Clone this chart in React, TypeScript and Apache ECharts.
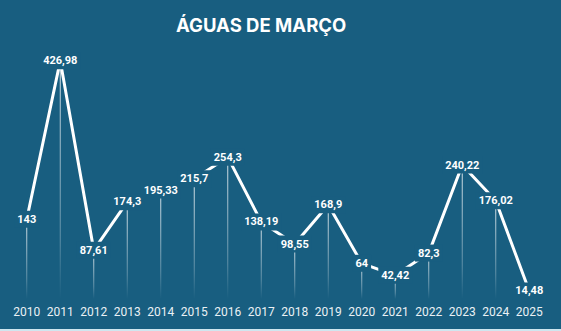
import React, { useEffect, useRef } from "react";
import * as echarts from "echarts";

const years = ["2010", "2011", "2012", "2013", "2014", "2015", "2016", "2017", "2018", "2019", "2020", "2021", "2022", "2023", "2024", "2025"];
const rainfall = [143, 426.98, 87.61, 174.3, 195.33, 215.7, 254.3, 138.19, 98.55, 168.9, 64, 42.42, 82.3, 240.22, 176.02, 14.48];
const titleText = "ÁGUAS DE MARÇO";

const BG = "#185e80";

export default function App() {
  const ref = useRef<HTMLDivElement>(null);
  useEffect(() => {
    if (!ref.current) return;
    const chart = echarts.init(ref.current, undefined, { renderer: "svg" });
    chart.setOption({
      animation: false,
      backgroundColor: BG,
      title: {
        text: titleText,
        left: 171,
        top: 10,
        textStyle: { color: "#ffffff", fontSize: 18.5, fontWeight: "bold", fontFamily: "Inter" },
      },
      grid: { left: 10, right: 15, top: 48, bottom: 32 },
      xAxis: {
        type: "category",
        data: years,
        boundaryGap: true,
        axisLine: { show: false },
        axisTick: { show: false },
        axisLabel: { interval: 0, color: "#eaf1f5", fontSize: 12, fontFamily: "Roboto", margin: 13, verticalAlign: "middle" },
      },
      yAxis: { type: "value", min: 0, max: 450, show: false, splitLine: { show: false } },
      graphic: [
        { type: "rect", shape: { x: 0, y: 329, width: 561, height: 2 }, style: { fill: "#cfe6ef" } },
      ],
      series: [
        {
          type: "bar",
          data: rainfall,
          barWidth: 1,
          silent: true,
          itemStyle: {
            color: new echarts.graphic.LinearGradient(0, 0, 0, 1, [
              { offset: 0, color: "rgba(255,255,255,0.85)" },
              { offset: 0.75, color: "rgba(255,255,255,0.3)" },
              { offset: 1, color: "rgba(255,255,255,0)" },
            ]),
          },
          z: 1,
        },
        {
          type: "line",
          data: rainfall,
          symbol: "circle",
          symbolSize: 1,
          itemStyle: { color: "#ffffff" },
          lineStyle: { color: "#ffffff", width: 3 },
          z: 2,
          label: {
            show: true,
            position: "inside",
            color: "#ffffff",
            fontSize: 11,
            fontWeight: "bold",
            fontFamily: "Roboto",
            backgroundColor: BG,
            padding: [3, 3],
            formatter: (p: any) => String(p.value).replace(".", ","),
          },
        },
      ],
    });
    return () => chart.dispose();
  }, []);
  return <div ref={ref} style={{ position: "fixed", left: 0, top: 0, width: 561, height: 331 }} />;
}
